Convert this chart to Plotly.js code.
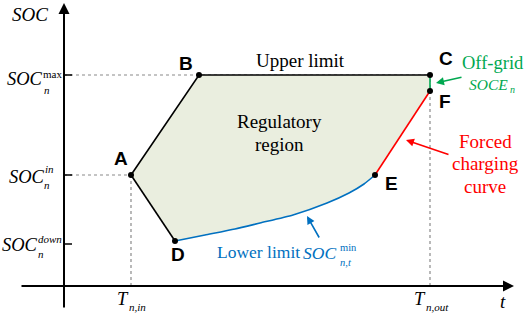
<!DOCTYPE html>
<html>
<head>
<meta charset="utf-8">
<script src="https://cdn.plot.ly/plotly-3.0.1.min.js"></script>
<style>html,body{margin:0;padding:0;background:#fff;}#chart{width:526px;height:314px;}</style>
</head>
<body>
<div id="chart"></div>
<script>
// ---- data (time t, state of charge SOC; arbitrary schematic units) ----
const tIn = 67, tOut = 366;
const socMax = 211, socIn = 111, socDown = 42;
const pointNames = ['A', 'B', 'C', 'F', 'E', 'D'];
const pointT = [67, 135, 366, 366, 311, 111];
const pointSOC = [111, 211, 211, 195, 111, 45];
const upperT = [67, 135, 366];          // A -> B -> C
const upperSOC = [111, 211, 211];
const dischargeT = [67, 111];           // A -> D
const dischargeSOC = [111, 45];
const lowerT = [111, 141, 171, 196, 229, 263, 285, 300, 311];   // D -> E lower limit
const lowerSOC = [45, 51, 57, 63, 71, 83, 93, 102, 111];
const forcedT = [311, 366];             // E -> F
const forcedSOC = [111, 195];
const offgridT = [366, 366];            // F -> C
const offgridSOC = [195, 211];

// region polygon: A-B-C-F-E-(lower reversed)-D-A
const regionT = upperT.concat([366], forcedT.slice().reverse(), lowerT.slice().reverse(), [67]);
const regionSOC = upperSOC.concat([195], forcedSOC.slice().reverse(), lowerSOC.slice().reverse(), [111]);

const BLUE = '#0070C0', RED = '#FF0000', GREEN = '#00A850', FILL = '#EAEEDF';
const SERIF = 'Liberation Serif, Times New Roman, serif';
const SANS = 'Liberation Sans, Arial, sans-serif';

const traces = [
  {x: regionT, y: regionSOC, mode: 'lines', fill: 'toself', fillcolor: FILL, line: {width: 0, color: FILL}, hoverinfo: 'skip'},
  {x: upperT, y: upperSOC, mode: 'lines', line: {color: '#000', width: 1.6}},
  {x: dischargeT, y: dischargeSOC, mode: 'lines', line: {color: '#000', width: 1.6}},
  {x: lowerT, y: lowerSOC, mode: 'lines', line: {color: BLUE, width: 1.6, shape: 'spline', smoothing: 0.6}},
  {x: forcedT, y: forcedSOC, mode: 'lines', line: {color: RED, width: 1.6}},
  {x: offgridT, y: offgridSOC, mode: 'lines', line: {color: GREEN, width: 1.6}},
  {x: pointT, y: pointSOC, mode: 'markers', marker: {color: '#000', size: 6}}
];

// pixel helpers for label placement (origin of axes at pixel 64,286)
const X = p => p - 64, Y = p => 286 - p;

const gray = {color: '#8a8a8a', width: 1.2, dash: 'dot'};
const shapes = [
  {type: 'line', x0: 0, x1: tOut, y0: socMax, y1: socMax, line: gray, layer: 'below'},
  {type: 'line', x0: 0, x1: tIn, y0: socIn, y1: socIn, line: gray, layer: 'below'},
  {type: 'line', x0: tIn, x1: tIn, y0: 0, y1: socIn, line: gray, layer: 'below'},
  {type: 'line', x0: tOut, x1: tOut, y0: 0, y1: socMax, line: gray, layer: 'below'},
  {type: 'line', x0: 0, x1: 8, y0: socMax, y1: socMax, line: {color: '#000', width: 1.5}},
  {type: 'line', x0: 0, x1: 8, y0: socIn, y1: socIn, line: {color: '#000', width: 1.5}},
  {type: 'line', x0: 0, x1: 8, y0: socDown, y1: socDown, line: {color: '#000', width: 1.5}}
];

function txt(x, y, text, size, color, family, extra) {
  return Object.assign({x: X(x), y: Y(y), xref: 'x', yref: 'y', text: text, showarrow: false,
    font: {size: size, color: color || '#000', family: family || SERIF}, xanchor: 'center', yanchor: 'middle'}, extra || {});
}
function arrow(x1, y1, x0, y0, color, w, head) {
  return {x: X(x1), y: Y(y1), ax: X(x0), ay: Y(y0), xref: 'x', yref: 'y', axref: 'x', ayref: 'y', text: '',
    showarrow: true, arrowhead: 2, arrowsize: head || 1, arrowwidth: w || 1.6, arrowcolor: color, standoff: 0};
}

const annotations = [
  // axes
  arrow(514, 286, 20, 286, '#000', 2, 1.1),
  arrow(64, 3, 64, 309, '#000', 2, 1.1),
  // axis titles
  txt(30, 14, '<i>SOC</i>', 19),
  txt(503, 301, '<i>t</i>', 19),
  // SOC tick labels
  txt(25, 79, '<i>SOC</i>', 18.5), txt(52, 74, 'max', 11), txt(47, 90, '<i>n</i>', 11),
  txt(27, 177, '<i>SOC</i>', 18.5), txt(49, 169, '<i>in</i>', 11), txt(47, 185, '<i>n</i>', 11),
  txt(20, 245, '<i>SOC</i>', 18.5), txt(50, 239, '<i>down</i>', 11), txt(41, 254, '<i>n</i>', 11),
  // time tick labels
  txt(123, 299, '<i>T</i>', 18.5), txt(137, 307, '<i>n,in</i>', 11),
  txt(420, 299, '<i>T</i>', 18.5), txt(437, 307, '<i>n,out</i>', 11),
  // point letters
  txt(121, 158, '<b>A</b>', 19, '#000', SANS),
  txt(186, 63, '<b>B</b>', 19, '#000', SANS),
  txt(446, 58, '<b>C</b>', 19, '#000', SANS),
  txt(445, 101, '<b>F</b>', 19, '#000', SANS),
  txt(391, 183, '<b>E</b>', 19, '#000', SANS),
  txt(178, 254, '<b>D</b>', 19, '#000', SANS),
  // region labels
  txt(300, 60, 'Upper limit', 19),
  txt(279, 121, 'Regulatory', 19),
  txt(279, 144, 'region', 19),
  // off-grid
  txt(493, 63, 'Off-grid', 18.5, GREEN),
  txt(488, 84, '<i>SOCE</i>', 15.5, GREEN), txt(512, 89, '<i>n</i>', 10, GREEN),
  arrow(436, 83, 463, 77, GREEN, 1.6, 1),
  // forced charging
  txt(485, 141, 'Forced', 19, RED),
  txt(485, 163, 'charging', 19, RED),
  txt(485, 186, 'curve', 19, RED),
  arrow(406, 140, 450, 155, RED, 1.6, 1),
  // lower limit
  txt(258, 252, 'Lower limit', 17.5, BLUE),
  txt(319, 253, '<i>SOC</i>', 17.5, BLUE), txt(348, 247, 'min', 10.5, BLUE), txt(346, 262, '<i>n,t</i>', 10.5, BLUE),
  arrow(307, 216, 320, 239, BLUE, 1.6, 1)
];

const layout = {
  width: 526, height: 314,
  margin: {l: 0, r: 0, t: 0, b: 0},
  paper_bgcolor: '#fff', plot_bgcolor: '#fff',
  showlegend: false,
  xaxis: {range: [-64, 462], visible: false, fixedrange: true},
  yaxis: {range: [-28, 286], visible: false, fixedrange: true},
  shapes: shapes,
  annotations: annotations
};

Plotly.newPlot('chart', traces, layout, {staticPlot: true, displayModeBar: false});
</script>
</body>
</html>
